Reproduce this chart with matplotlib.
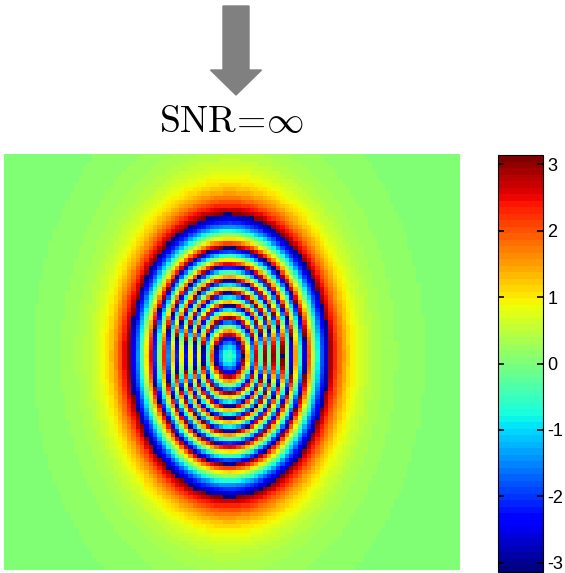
import numpy as np
import matplotlib
matplotlib.use('Agg')
from matplotlib import pyplot as plt
from matplotlib.patches import FancyArrow

# wrapped phase field: gaussian-shaped phase bump plus a broad weak halo
n_x, n_y = 104, 100
peak = 16 * np.pi - 0.4         # phase at centre (rad)
halo = 1.05                     # amplitude of the broad halo (rad)
halo_w = 1.27                   # halo width, in units of the pi-ring radius
cx, cy = -0.013, -0.03          # centre, normalised -1..1 (y down)
rx, ry = 0.443, 0.688           # radius where phase = pi
cbar_ticks = [-3, -2, -1, 0, 1, 2, 3]
title = r'$\mathrm{SNR\!=\!\infty}$'

x = np.linspace(-1, 1, n_x)
y = np.linspace(-1, 1, n_y)
X, Y = np.meshgrid(x, y)
r2 = ((X - cx) / rx) ** 2 + ((Y - cy) / ry) ** 2
core = peak - halo
h1 = halo * np.exp(-1 / halo_w ** 2)
c = np.log(core / (np.pi - h1))
phase = core * np.exp(-c * r2) + halo * np.exp(-r2 / halo_w ** 2)
wrapped = np.angle(np.exp(1j * phase))

plt.rcParams['mathtext.fontset'] = 'cm'
W, H = 565, 573
fig = plt.figure(figsize=(W / 100, H / 100), dpi=100)

ax = fig.add_axes([4 / W, 3 / H, 456 / W, 416 / H])
im = ax.imshow(wrapped, cmap=plt.get_cmap('jet', 64), vmin=-np.pi, vmax=np.pi,
               interpolation='nearest', aspect='auto')
ax.axis('off')

cax = fig.add_axes([498 / W, 1 / H, 45 / W, 417 / H])
cb = fig.colorbar(im, cax=cax, ticks=cbar_ticks)
cb.outline.set_linewidth(0.8)
cax.tick_params(direction='in', length=4, width=1.2, left=True, right=True,
                labelsize=13, pad=3)
for t in cax.get_yticklabels():
    t.set_fontfamily('Liberation Sans')
cax.set_yticklabels([str(v) for v in cbar_ticks])

fig.text(232 / W, 1 - 132 / H, title, ha='center', va='baseline', fontsize=27)

arrow = FancyArrow(236 / W, 1 - 6 / H, 0, -89 / H, width=26 / W,
                   head_width=51 / W, head_length=25 / H,
                   length_includes_head=True, color='#808080',
                   transform=fig.transFigure)
fig.patches.append(arrow)

fig.savefig('out.png', dpi=100)
